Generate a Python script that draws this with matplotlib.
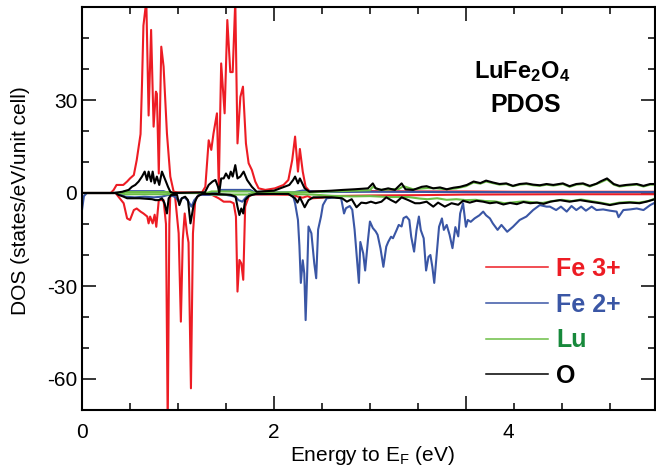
import numpy as np
import matplotlib
matplotlib.use("Agg")
import matplotlib.pyplot as plt

plt.rcParams['font.family'] = ['Liberation Sans', 'DejaVu Sans']
plt.rcParams['mathtext.fontset'] = 'custom'
plt.rcParams['mathtext.rm'] = 'Liberation Sans'
plt.rcParams['mathtext.it'] = 'Liberation Sans'
plt.rcParams['mathtext.bf'] = 'Liberation Sans:bold'
plt.rcParams['axes.unicode_minus'] = False

# Fe 3+ spin up / spin down (energy in eV, DOS in states/eV/unit cell)
fe3_up_e = [0.0, 0.30, 0.33, 0.36, 0.43, 0.47, 0.50, 0.54, 0.57, 0.61, 0.625, 0.64, 0.67, 0.694, 0.72,
            0.746, 0.77, 0.78, 0.80, 0.826, 0.85, 0.885, 0.92, 0.955, 1.0, 1.25, 1.285, 1.32, 1.347,
            1.37, 1.406, 1.425, 1.45, 1.486, 1.514, 1.545, 1.57, 1.597, 1.62, 1.65, 1.677, 1.708,
            1.736, 1.77, 1.805, 1.84, 1.91, 2.01, 2.10, 2.15, 2.19, 2.22, 2.25, 2.27, 2.30, 2.33,
            2.37, 2.6, 3.0, 3.5, 4.0, 4.5, 5.0, 5.5, 5.97]
fe3_up = [0, 0, 1.0, 2.6, 2.6, 3.7, 4.7, 5.8, 10.6, 19, 35, 54, 62, 25, 52.6,
          21.4, 32.7, 32, 6.3, 47.2, 40.8, 19.2, 5.3, 0.4, 0.2, 0.2, 2, 17, 13.9,
          19.2, 25.7, 2, 41.8, 25.7, 55.8, 39, 39, 62, 16, 31, 34.3, 16,
          9.6, 7.4, 3.7, 1.5, 1.0, 1.5, 2.6, 4.2, 10.6, 18.2, 6.9, 14.2, 6.9, 2.0,
          0.6, 0.5, 0.6, 0.5, 0.5, 0.4, 0.4, 0.4, 0.4]
fe3_dn_e = [0.0, 0.35, 0.38, 0.434, 0.47, 0.50, 0.54, 0.57, 0.61, 0.64, 0.68, 0.694, 0.71, 0.736,
            0.757, 0.774, 0.80, 0.85, 0.875, 0.893, 0.91, 0.92, 0.97, 1.007, 1.03, 1.05, 1.07, 1.094,
            1.11, 1.135, 1.156, 1.18, 1.215, 1.354, 1.424, 1.476, 1.545, 1.58, 1.604, 1.62, 1.64,
            1.66, 1.68, 1.70, 1.736, 1.77, 2.0, 2.2, 2.25, 2.3, 2.35, 2.4, 2.5, 2.6, 3.0, 3.5,
            4.0, 5.0, 5.97]
fe3_dn = [0, 0, -1.2, -3.3, -8.2, -8.7, -5.5, -5.0, -6.0, -6.6, -7.6, -9.8, -7.6, -9.8,
          -7.0, -10.9, -2.3, -2.3, -10, -75, -10, -0.6, -1.2, -13, -41.5, -15, -6.6, -13,
          -16, -63, -13, -2.3, -0.6, -0.6, -1.7, -2.8, -2.8, -3.3, -7.6, -31.8, -21.6,
          -22.7, -28, -4.4, -1.2, -0.5, -0.5, -0.6, -1.2, -1.5, -1.0, -1.7, -1.5, -1.0, -0.8, -0.7,
          -0.5, -0.4, -0.4]

# Fe 2+
fe2_up_e = [0.0, 0.4, 0.45, 0.85, 0.9, 1.4, 1.45, 1.75, 1.8, 2.2, 2.3, 2.5, 3.0, 4.0, 5.97]
fe2_up = [0, 0, 0.6, 0.6, 0, 0, 1.0, 1.0, 0.2, 0.2, 0.8, 0.3, 0.4, 0.3, 0.3]
fe2_dn_e = [0.0, 0.02, 0.05, 0.38, 0.45, 0.55, 0.65, 0.75, 0.83, 0.9, 0.97, 1.01, 1.04, 1.07, 1.11,
            1.14, 1.17, 1.22, 1.5, 1.6, 1.63, 1.67, 1.70, 1.74, 2.0, 2.15, 2.2, 2.22, 2.25, 2.265,
            2.28, 2.30, 2.316, 2.33, 2.345, 2.36, 2.39, 2.42, 2.44, 2.46, 2.49, 2.51, 2.55, 2.635,
            2.70, 2.73, 2.75, 2.79, 2.816, 2.84, 2.86, 2.885, 2.90, 2.93, 2.95, 2.98, 3.0, 3.03,
            3.06, 3.08, 3.11, 3.14, 3.17, 3.19, 3.22, 3.24, 3.28, 3.30, 3.33, 3.35, 3.38, 3.41,
            3.43, 3.46, 3.485, 3.51, 3.53, 3.56, 3.585, 3.61, 3.63, 3.65, 3.67, 3.69, 3.72, 3.75,
            3.77, 3.80, 3.83, 3.86, 3.89, 3.92, 3.94, 3.97, 4.0, 4.02, 4.05, 4.09, 4.14, 4.18,
            4.21, 4.25, 4.28, 4.33, 4.37, 4.43, 4.49, 4.56, 4.63, 4.70, 4.77, 4.84, 4.875, 4.94,
            4.99, 5.05, 5.10, 5.15, 5.2, 5.25, 5.31, 5.36, 5.43, 5.5, 5.57, 5.59, 5.64, 5.71,
            5.78, 5.85, 5.92, 5.97]
fe2_dn = [-5.5, -1, 0, 0, -1.2, -1.4, -1.2, -1.4, -1.2, -0.6, -1.2, -2.8, -1.7, -1.4, -2.8,
          -4.4, -2.3, -0.6, -0.6, -1.2, -2.3, -2.8, -1.7, -0.4, -0.3, -0.3, -1.0, -3.3, -8.7, -17,
          -29, -21.7, -26, -41, -27, -10.8, -13, -22.7, -27.5, -11.8, -7.6, -3.9, -1.7, -1.4,
          -1.7, -6.6, -4.9, -4.2, -5.4, -11.8, -19.5, -29, -15.8, -19.5, -25, -15, -9.2, -11.3,
          -12.4, -13.5, -17.9, -23.8, -17.3, -15.8, -14.1, -14.6, -11.8, -10.3, -10.8, -8.1, -7.6, -8.7,
          -14.1, -18.9, -12, -7.6, -12, -14.6, -25, -20.6, -20, -23.8, -29, -21.6, -10.9, -8.2,
          -11.9, -10.3, -13.5, -17.8, -11, -14, -6.6, -3.3, -10.9, -8.7, -9.3, -8.2, -7.2, -6,
          -7.2, -8.2, -9.8, -11.9, -10.3, -12.5, -10.9, -8.7, -7.6, -5.5, -3.9, -4.4, -4.4, -5.5,
          -4.4, -6, -4.2, -5.5, -4.4, -5.7, -4.4, -5.5, -5.3, -5.7, -6, -7.8, -5.5, -5.3,
          -5, -5.5, -3.9, -3.1]

# Lu
lu_up_e = [0.0, 0.4, 0.45, 0.9, 0.95, 1.3, 1.35, 1.75, 1.8, 2.4, 2.6, 2.8, 3.0, 3.03, 3.1, 3.3,
           3.35, 3.45, 3.52, 3.6, 3.7, 3.8, 3.9, 4.0, 4.08, 4.15, 4.21, 4.28, 4.35, 4.42, 4.49,
           4.56, 4.63, 4.70, 4.77, 4.84, 4.91, 5.01, 5.08, 5.15, 5.22, 5.29, 5.40, 5.47, 5.54,
           5.60, 5.67, 5.78, 5.85, 5.92, 5.97]
lu_up = [0, 0, 0.3, 0.3, 0, 0, 0.5, 0.5, 0.1, 0.3, 0.5, 0.7, 0.9, 2.0, 1.0, 1.3,
         2.2, 1.2, 1.4, 1.6, 1.5, 1.2, 1.5, 2.2, 3.4, 3.0, 3.7, 3.2, 2.7, 2.9, 2.2,
         2.7, 2.9, 2.5, 2.3, 2.7, 2.4, 2.9, 2.0, 2.7, 2.9, 2.1, 3.4, 4.4, 2.7,
         2.1, 2.4, 2.7, 2.1, 2.7, 2.7]
lu_dn_e = [0.0, 0.4, 0.45, 0.9, 0.95, 1.3, 1.35, 1.75, 1.8, 2.4, 2.6, 2.8, 3.0, 3.2, 3.4, 3.52,
           3.6, 3.7, 3.8, 3.9, 4.0, 4.1, 4.2, 4.3, 4.4, 4.5, 4.6, 4.7, 4.8, 4.9, 5.0, 5.1, 5.2,
           5.3, 5.4, 5.5, 5.6, 5.7, 5.8, 5.9, 5.97]
lu_dn = [0, 0, -0.4, -0.4, 0, 0, -0.5, -0.5, -0.1, -0.5, -0.9, -1.1, -1.0, -1.3, -1.3, -1.8,
         -2.0, -1.7, -2.2, -2.0, -2.3, -2.2, -2.6, -2.7, -3.3, -3.0, -2.7, -3.0, -3.2, -2.6, -2.2, -2.6, -2.1,
         -2.6, -3.1, -3.7, -3.1, -2.9, -3.1, -2.6, -1.8]

# O
o_up_e = [0.0, 0.33, 0.42, 0.486, 0.52, 0.555, 0.59, 0.625, 0.653, 0.677, 0.694, 0.72, 0.736,
          0.757, 0.78, 0.805, 0.833, 0.868, 0.896, 0.92, 0.95, 1.28, 1.32, 1.36, 1.39, 1.417,
          1.43, 1.45, 1.476, 1.50, 1.53, 1.55, 1.57, 1.597, 1.62, 1.65, 1.684, 1.72, 1.77, 1.82,
          2.0, 2.16, 2.20, 2.22, 2.25, 2.27, 2.32, 2.37, 2.5, 2.6, 2.72, 2.84, 2.98, 3.03, 3.06,
          3.12, 3.19, 3.26, 3.33, 3.37, 3.45, 3.54, 3.59, 3.66, 3.73, 3.80, 3.87, 3.94, 4.01,
          4.08, 4.15, 4.21, 4.28, 4.35, 4.42, 4.49, 4.56, 4.63, 4.70, 4.77, 4.84, 4.91, 4.97,
          5.01, 5.08, 5.15, 5.22, 5.29, 5.36, 5.40, 5.47, 5.54, 5.60, 5.67, 5.78, 5.85, 5.92, 5.97]
o_up = [0, 0, 0.4, 1.0, 2.0, 2.6, 3.7, 5.3, 6.9, 4.2, 6.9, 3.7, 6.9,
        3.1, 5.3, 2.6, 6.9, 4.2, 2.0, 0.4, 0, 0.2, 2.6, 3.7, 4.2, 2.0,
        0.1, 4.7, 4.7, 6.3, 4.7, 6.9, 5.3, 9.0, 4.7, 5.3, 6.9, 4.2, 2.0, 0.4,
        0.75, 2.6, 4.2, 5.3, 3.1, 4.7, 1.5, 0.4, 0.6, 0.75, 1.0, 1.2, 1.5, 3.1, 1.5,
        1.0, 1.5, 1.0, 3.1, 1.2, 1.0, 2.0, 2.2, 1.5, 1.8, 1.2, 1.7, 2.0, 2.6,
        3.7, 3.2, 4.0, 3.4, 2.9, 3.1, 2.3, 2.9, 3.1, 2.7, 2.5, 2.9, 2.6, 2.9,
        3.1, 2.2, 2.9, 3.1, 2.3, 3.0, 3.7, 4.7, 2.9, 2.3, 2.6, 2.9, 2.3, 2.9, 2.9]
o_dn_e = [0.0, 0.35, 0.38, 0.434, 0.47, 0.6, 0.73, 0.764, 0.80, 0.833, 0.86, 0.885, 0.903, 0.93,
          0.99, 1.014, 1.04, 1.075, 1.104, 1.13, 1.163, 1.20, 1.25, 1.39, 1.55, 1.60, 1.62, 1.64,
          1.66, 1.68, 1.70, 1.74, 1.81, 2.15, 2.22, 2.245, 2.27, 2.32, 2.36, 2.41, 2.5, 2.6,
          2.71, 2.76, 2.81, 2.86, 2.91, 2.96, 3.01, 3.06, 3.12, 3.17, 3.22, 3.27, 3.33, 3.40,
          3.47, 3.52, 3.59, 3.66, 3.71, 3.78, 3.85, 3.92, 3.97, 4.04, 4.11, 4.18, 4.25, 4.32,
          4.39, 4.46, 4.53, 4.60, 4.67, 4.74, 4.81, 4.88, 4.98, 5.08, 5.19, 5.29, 5.40, 5.50,
          5.60, 5.71, 5.81, 5.88, 5.97]
o_dn = [0, 0, -0.6, -1.2, -1.7, -1.7, -2.0, -2.3, -2.3, -1.7, -3.3, -6.6, -1.7, -0.6,
        -0.6, -3.9, -1.7, -1.2, -2.3, -9.8, -3.9, -1.2, -0.3, -0.3, -0.6, -1.2, -4.4, -7.1,
        -5.0, -6.6, -2.3, -0.9, -0.3, -0.3, -1.7, -3.1, -1.4, -4.6, -2.3, -1.4, -1.4, -1.4,
        -1.7, -2.8, -2.0, -4.6, -3.1, -3.3, -2.8, -3.3, -2.8, -1.4, -2.3, -3.1, -1.4, -2.3,
        -3.3, -3.3, -2.8, -4.4, -3.1, -4.4, -3.3, -3.8, -2.5, -3.1, -2.5, -2.8, -3.3, -3.0,
        -3.7, -3.2, -3.6, -2.9, -3.3, -3.1, -3.5, -2.8, -2.3, -2.8, -2.3, -2.8, -3.3, -3.9,
        -3.3, -3.1, -3.3, -2.8, -2.0]

labels = ["Fe 3+", "Fe 2+", "Lu", "O"]
line_colors = ["#ED1C24", "#3A56A5", "#6CBE45", "#000000"]
text_colors = ["#ED1C24", "#3A56A5", "#17893B", "#000000"]

fig = plt.figure(figsize=(6.56, 4.69), dpi=100)
ax = fig.add_axes([82 / 656, 59 / 469, 573 / 656, 403 / 469])

series = [
    (fe3_up_e, fe3_up, fe3_dn_e, fe3_dn),
    (fe2_up_e, fe2_up, fe2_dn_e, fe2_dn),
    (lu_up_e, lu_up, lu_dn_e, lu_dn),
    (o_up_e, o_up, o_dn_e, o_dn),
]
handles = []
for (ue, uv, de, dv), c, lab in zip(series, line_colors, labels):
    ax.plot(ue, uv, color=c, lw=1.5)
    ax.plot(de, dv, color=c, lw=1.5)
    handles.append(plt.Line2D([], [], color=c, lw=1.1, label=lab))

ax.set_xlim(0, 5.97)
ax.set_ylim(-70, 60)
ax.set_xticks([0, 2, 4])
ax.set_xticklabels(["0", "2", ""])
ax.set_xticks(np.arange(0, 6, 0.5), minor=True)
ax.set_yticks([-60, -30, 0, 30])
ax.set_yticks(np.arange(-70, 61, 10), minor=True)
ax.tick_params(which="both", direction="in", top=True, right=True, labelsize=15, width=1.1)
ax.tick_params(which="major", length=10)
ax.tick_params(which="minor", length=5)
ax.tick_params(axis="x", pad=9)
for s in ax.spines.values():
    s.set_linewidth(1.5)

# the "4" label sits to the right of its tick in the original
ax.text(4.44, -13 / 403, "4", transform=ax.get_xaxis_transform(), ha="center", va="top", fontsize=15)

ax.set_xlabel("Energy to E$_F$ (eV)", fontsize=15)
ax.xaxis.set_label_coords(0.506, -0.085)
ax.set_ylabel("DOS (states/eV/unit cell)", fontsize=15)
ax.yaxis.set_label_coords(-0.09, 0.52)

ax.text(0.768, 0.84, r"$\mathbf{LuFe_2O_4}$", transform=ax.transAxes, ha="center", va="center", fontsize=17)
ax.text(0.775, 0.757, "PDOS", transform=ax.transAxes, ha="center", va="center", fontsize=18, fontweight="bold")

leg = ax.legend(handles=handles, loc="upper left", bbox_to_anchor=(0.705, 0.38), frameon=False,
                borderpad=0, borderaxespad=0, handlelength=2.5, handletextpad=0.3, labelspacing=0.47,
                prop={"size": 18, "weight": "bold"}, labelcolor=text_colors)

fig.savefig("out.png", dpi=100)
